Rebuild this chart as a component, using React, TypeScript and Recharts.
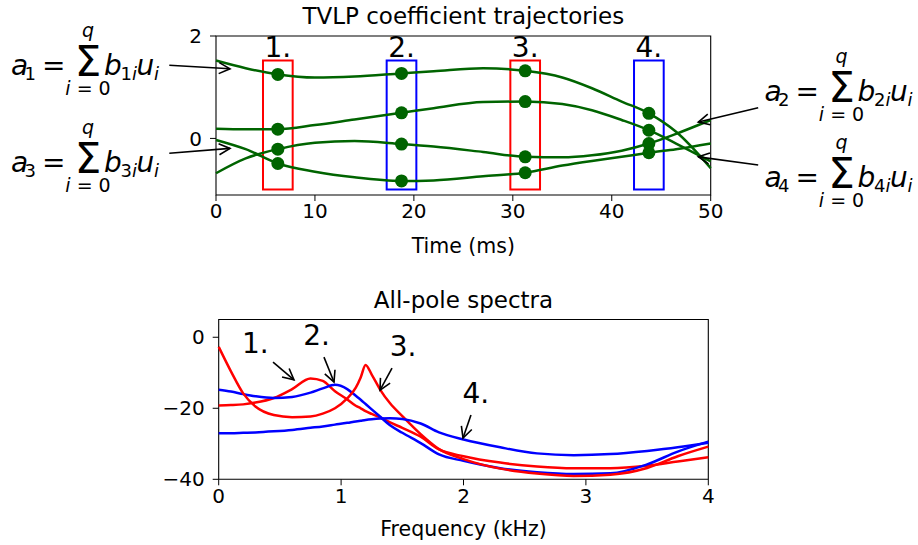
import React from 'react';
import { ComposedChart, Line, XAxis, YAxis, ReferenceArea } from 'recharts';

const W = 918;
const H = 545;
const FONT = '"DejaVu Sans", sans-serif';
const GREEN = '#006400';
const RED = '#ff0000';
const BLUE = '#0000ff';
const AXIS_W = 60;
const AXIS_H = 30;

// --- TVLP coefficient trajectories (time in ms) ---
const timeMs = [0, 3, 6.25, 10, 14, 18.75, 22, 27, 31.25, 35, 38, 41, 43.75, 46.5, 50];
const coefA1 = [1.52, 1.37, 1.25, 1.19, 1.21, 1.27, 1.31, 1.37, 1.32, 1.19, 0.98, 0.72, 0.49, 0.13, -0.58];
const coefA2 = [-0.68, -0.39, -0.21, -0.085, -0.05, -0.11, -0.16, -0.265, -0.36, -0.37, -0.33, -0.24, -0.1, 0.09, 0.36];
const coefA3 = [-0.03, -0.21, -0.49, -0.65, -0.76, -0.83, -0.82, -0.74, -0.67, -0.53, -0.44, -0.36, -0.28, -0.21, -0.1];
const coefA4 = [0.19, 0.18, 0.18, 0.26, 0.37, 0.5, 0.59, 0.71, 0.72, 0.67, 0.55, 0.36, 0.16, -0.1, -0.45];
const sampleTimes = [6.25, 18.75, 31.25, 43.75];
const sampleLabels = ['1.', '2.', '3.', '4.'];
const sampleColors = [RED, BLUE, RED, BLUE];
const timeTicks = [0, 10, 20, 30, 40, 50];
const coefTicks = [0, 2];

// --- all-pole spectra (frequency in kHz, level in dB) ---
const freqKHz = [0, 0.1, 0.2, 0.3, 0.45, 0.6, 0.75, 0.85, 0.95, 1.05, 1.12, 1.16, 1.2, 1.25, 1.32, 1.4, 1.5, 1.65, 1.8, 2.0, 2.3, 2.6, 2.9, 3.2, 3.5, 3.75, 4.0];
const spec1 = [-19.2, -19.1, -18.9, -18.4, -17.1, -14.6, -11.6, -12.3, -15.2, -17.5, -19.3, -20.0, -20.8, -21.6, -22.6, -24.0, -25.5, -28.0, -31.6, -33.5, -35.3, -36.4, -36.9, -36.9, -36.2, -35.0, -33.8];
const spec2 = [-14.8, -15.3, -16.0, -16.6, -17.1, -16.8, -15.6, -14.4, -13.4, -14.6, -16.5, -17.6, -18.8, -20.3, -22.4, -24.8, -26.9, -29.8, -33.0, -34.8, -36.9, -38.0, -38.5, -38.3, -35.8, -32.2, -29.4];
const spec3 = [-2.7, -9.6, -15.8, -19.5, -21.9, -22.5, -22.3, -21.5, -20.0, -17.2, -14.2, -11.3, -7.8, -10.5, -14.8, -18.6, -22.2, -27.3, -31.5, -34.3, -37.0, -38.4, -39.1, -38.7, -36.8, -33.5, -30.8];
const spec4 = [-27.0, -27.0, -26.9, -26.8, -26.5, -26.1, -25.5, -25.1, -24.6, -24.1, -23.7, -23.5, -23.3, -23.1, -22.9, -22.8, -23.0, -24.3, -26.8, -28.8, -31.0, -32.7, -33.2, -32.9, -32.0, -31.0, -29.7];
const specColors = [RED, BLUE, RED, BLUE];
const freqTicks = [0, 1, 2, 3, 4];
const levelTicks = [-40, -20, 0];

// spectrum annotations: label position, arrow tail and arrow tip (kHz, dB)
const specNotes = [
  { text: '1.', at: [0.3, -4.4], tail: [0.444, -7.0], tip: [0.615, -12.0] },
  { text: '2.', at: [0.8, -2.2], tail: [0.86, -5.6], tip: [0.942, -12.6] },
  { text: '3.', at: [1.506, -5.3], tail: [1.416, -8.7], tip: [1.318, -14.9] },
  { text: '4.', at: [2.1, -18.5], tail: [2.061, -21.9], tip: [1.996, -28.4] },
];

// coefficient arrows (ms, value), tails sit outside the axes
const coefArrows = [
  { tail: [-4.72, 1.43], tip: [1.415, 1.36] },
  { tail: [54.8, 0.6], tip: [48.75, 0.32] },
  { tail: [-4.72, -0.29], tip: [1.415, -0.195] },
  { tail: [54.8, -0.52], tip: [48.75, -0.36] },
];
// formula anchors in page pixels (left of "a", baseline)
const formulaPos = [[11, 75], [764.5, 101], [11, 172], [764.5, 187]];

const BOX_HALF = 1.5;
const BOX_Y: [number, number] = [-1.0, 1.52];

type Box = { left: number; right: number; top: number; bottom: number };
const TOP_BOX: Box = { left: 216, right: 710.7, top: 36, bottom: 195 };
const BOT_BOX: Box = { left: 218.7, right: 708.3, top: 319.5, bottom: 479.3 };
const TIME_DOMAIN: [number, number] = [0, 50];
const COEF_DOMAIN: [number, number] = [-1.105, 2];
const FREQ_DOMAIN: [number, number] = [0, 4];
const LEVEL_DOMAIN: [number, number] = [-40, 5];

const marginFor = (b: Box) => ({
  top: b.top,
  left: b.left - AXIS_W,
  right: W - b.right,
  bottom: H - b.bottom - AXIS_H,
});

const toPx = (b: Box, xd: [number, number], yd: [number, number]) => (p: number[]) => [
  b.left + ((p[0] - xd[0]) / (xd[1] - xd[0])) * (b.right - b.left),
  b.bottom - ((p[1] - yd[0]) / (yd[1] - yd[0])) * (b.bottom - b.top),
];
const topPx = toPx(TOP_BOX, TIME_DOMAIN, COEF_DOMAIN);
const botPx = toPx(BOT_BOX, FREQ_DOMAIN, LEVEL_DOMAIN);

const coefRows = timeMs.map((t, i) => ({ t, a1: coefA1[i], a2: coefA2[i], a3: coefA3[i], a4: coefA4[i] }));
const specRows = freqKHz.map((f, i) => ({ f, s1: spec1[i], s2: spec2[i], s3: spec3[i], s4: spec4[i] }));

const fmtTick = (v: number) => (v < 0 ? `\u2212${Math.abs(v)}` : `${v}`);
const tickStyle = { fontSize: 20, fill: '#000', fontFamily: FONT };

const SampleDot = (props: any) => {
  const { cx, cy, payload, index } = props;
  if (!sampleTimes.includes(payload.t)) return <g key={`n${index}`} />;
  return <circle key={`d${index}`} cx={cx} cy={cy} r={6.5} fill={GREEN} />;
};

const Arrow = ({ from, to }: { from: number[]; to: number[] }) => {
  const [x1, y1] = from;
  const [x2, y2] = to;
  const len = Math.hypot(x2 - x1, y2 - y1);
  const ux = (x2 - x1) / len;
  const uy = (y2 - y1) / len;
  const hl = 11;
  const hw = 5.5;
  const bx = x2 - ux * hl;
  const by = y2 - uy * hl;
  const head = `${bx - uy * hw},${by + ux * hw} ${x2},${y2} ${bx + uy * hw},${by - ux * hw}`;
  return (
    <g stroke="#000" strokeWidth={1.6} fill="none">
      <line x1={x1} y1={y1} x2={x2} y2={y2} />
      <polyline points={head} />
    </g>
  );
};

// a_k = sum_{i=0}^{q} b_{ki} u_i, laid out piece by piece
const SUB = 18;
const Formula = ({ x, y, k }: { x: number; y: number; k: number }) => (
  <g fontFamily={FONT} fill="#000">
    <text x={x} y={y} fontSize={28} fontStyle="italic">a</text>
    <text x={x + 13.5} y={y + 5} fontSize={SUB}>{k}</text>
    <text x={x + 31} y={y} fontSize={28}>=</text>
    <text x={x + 77} y={y + 1} fontSize={42} textAnchor="middle">Σ</text>
    <text x={x + 77} y={y - 38} fontSize={SUB + 1} fontStyle="italic" textAnchor="middle">q</text>
    <text x={x + 77} y={y + 19.5} fontSize={SUB + 1} textAnchor="middle">
      <tspan fontStyle="italic">i</tspan> = 0
    </text>
    <text x={x + 93} y={y} fontSize={28} fontStyle="italic">b</text>
    <text x={x + 109.5} y={y + 5} fontSize={SUB}>
      {k}
      <tspan fontStyle="italic">i</tspan>
    </text>
    <text x={x + 125.5} y={y} fontSize={28} fontStyle="italic">u</text>
    <text x={x + 143} y={y + 5} fontSize={SUB} fontStyle="italic">i</text>
  </g>
);

const layer: React.CSSProperties = { position: 'absolute', left: 0, top: 0 };

export default function App() {
  const topMid = (TOP_BOX.left + TOP_BOX.right) / 2;
  const botMid = (BOT_BOX.left + BOT_BOX.right) / 2;

  return (
    <div style={{ position: 'absolute', left: 0, top: 0, width: W, height: H, background: '#fff' }}>
      <div style={layer}>
        <ComposedChart width={W} height={H} data={coefRows} margin={marginFor(TOP_BOX)}>
          <XAxis
            type="number"
            dataKey="t"
            domain={TIME_DOMAIN}
            ticks={timeTicks}
            interval={0}
            height={AXIS_H}
            axisLine={false}
            tickLine={{ stroke: '#000' }}
            tickSize={6}
            tickMargin={3}
            tick={tickStyle}
          />
          <YAxis
            type="number"
            domain={COEF_DOMAIN}
            ticks={coefTicks}
            interval={0}
            allowDataOverflow
            width={AXIS_W}
            axisLine={false}
            tickLine={{ stroke: '#000' }}
            tickSize={6}
            tickMargin={8}
            tick={tickStyle}
            tickFormatter={fmtTick}
          />
          {sampleTimes.map((t, i) => (
            <ReferenceArea
              key={`box${i}`}
              x1={t - BOX_HALF}
              x2={t + BOX_HALF}
              y1={BOX_Y[0]}
              y2={BOX_Y[1]}
              fill="none"
              stroke={sampleColors[i]}
              strokeWidth={2}
              ifOverflow="visible"
            />
          ))}
          <ReferenceArea
            x1={TIME_DOMAIN[0]}
            x2={TIME_DOMAIN[1]}
            y1={COEF_DOMAIN[0]}
            y2={COEF_DOMAIN[1]}
            fill="none"
            stroke="#000"
            strokeWidth={1.1}
            ifOverflow="visible"
          />
          {['a1', 'a2', 'a3', 'a4'].map((k) => (
            <Line
              key={k}
              type="monotone"
              dataKey={k}
              stroke={GREEN}
              strokeWidth={2.5}
              dot={SampleDot}
              activeDot={false}
              isAnimationActive={false}
            />
          ))}
        </ComposedChart>
      </div>

      <div style={layer}>
        <ComposedChart width={W} height={H} data={specRows} margin={marginFor(BOT_BOX)}>
          <XAxis
            type="number"
            dataKey="f"
            domain={FREQ_DOMAIN}
            ticks={freqTicks}
            interval={0}
            height={AXIS_H}
            axisLine={false}
            tickLine={{ stroke: '#000' }}
            tickSize={6}
            tickMargin={3}
            tick={tickStyle}
          />
          <YAxis
            type="number"
            domain={LEVEL_DOMAIN}
            ticks={levelTicks}
            interval={0}
            allowDataOverflow
            width={AXIS_W}
            axisLine={false}
            tickLine={{ stroke: '#000' }}
            tickSize={6}
            tickMargin={8}
            tick={tickStyle}
            tickFormatter={fmtTick}
          />
          <ReferenceArea
            x1={FREQ_DOMAIN[0]}
            x2={FREQ_DOMAIN[1]}
            y1={LEVEL_DOMAIN[0]}
            y2={LEVEL_DOMAIN[1]}
            fill="none"
            stroke="#000"
            strokeWidth={1.1}
            ifOverflow="visible"
          />
          {['s1', 's2', 's3', 's4'].map((k, i) => (
            <Line
              key={k}
              type="monotone"
              dataKey={k}
              stroke={specColors[i]}
              strokeWidth={2.5}
              dot={false}
              activeDot={false}
              isAnimationActive={false}
            />
          ))}
        </ComposedChart>
      </div>

      <svg style={{ ...layer, pointerEvents: 'none' }} width={W} height={H}>
        <g fontFamily={FONT} fill="#000" textAnchor="middle">
          <text x={topMid} y={24} fontSize={23}>TVLP coefficient trajectories</text>
          <text x={topMid} y={253} fontSize={20.5}>Time (ms)</text>
          <text x={botMid} y={308} fontSize={23}>All-pole spectra</text>
          <text x={botMid} y={536} fontSize={20.5}>Frequency (kHz)</text>
          {sampleTimes.map((t, i) => {
            const [px, py] = topPx([t, 1.59]);
            return (
              <text key={`lab${i}`} x={px} y={py} fontSize={28}>
                {sampleLabels[i]}
              </text>
            );
          })}
          {specNotes.map((n) => {
            const [px, py] = botPx(n.at);
            return (
              <text key={`sn${n.text}`} x={px} y={py} fontSize={28}>
                {n.text}
              </text>
            );
          })}
        </g>
        {specNotes.map((n) => (
          <Arrow key={`sa${n.text}`} from={botPx(n.tail)} to={botPx(n.tip)} />
        ))}
        {coefArrows.map((a, i) => (
          <Arrow key={`ca${i}`} from={topPx(a.tail)} to={topPx(a.tip)} />
        ))}
        {formulaPos.map(([x, y], i) => (
          <Formula key={`f${i}`} x={x} y={y} k={i + 1} />
        ))}
      </svg>
    </div>
  );
}
